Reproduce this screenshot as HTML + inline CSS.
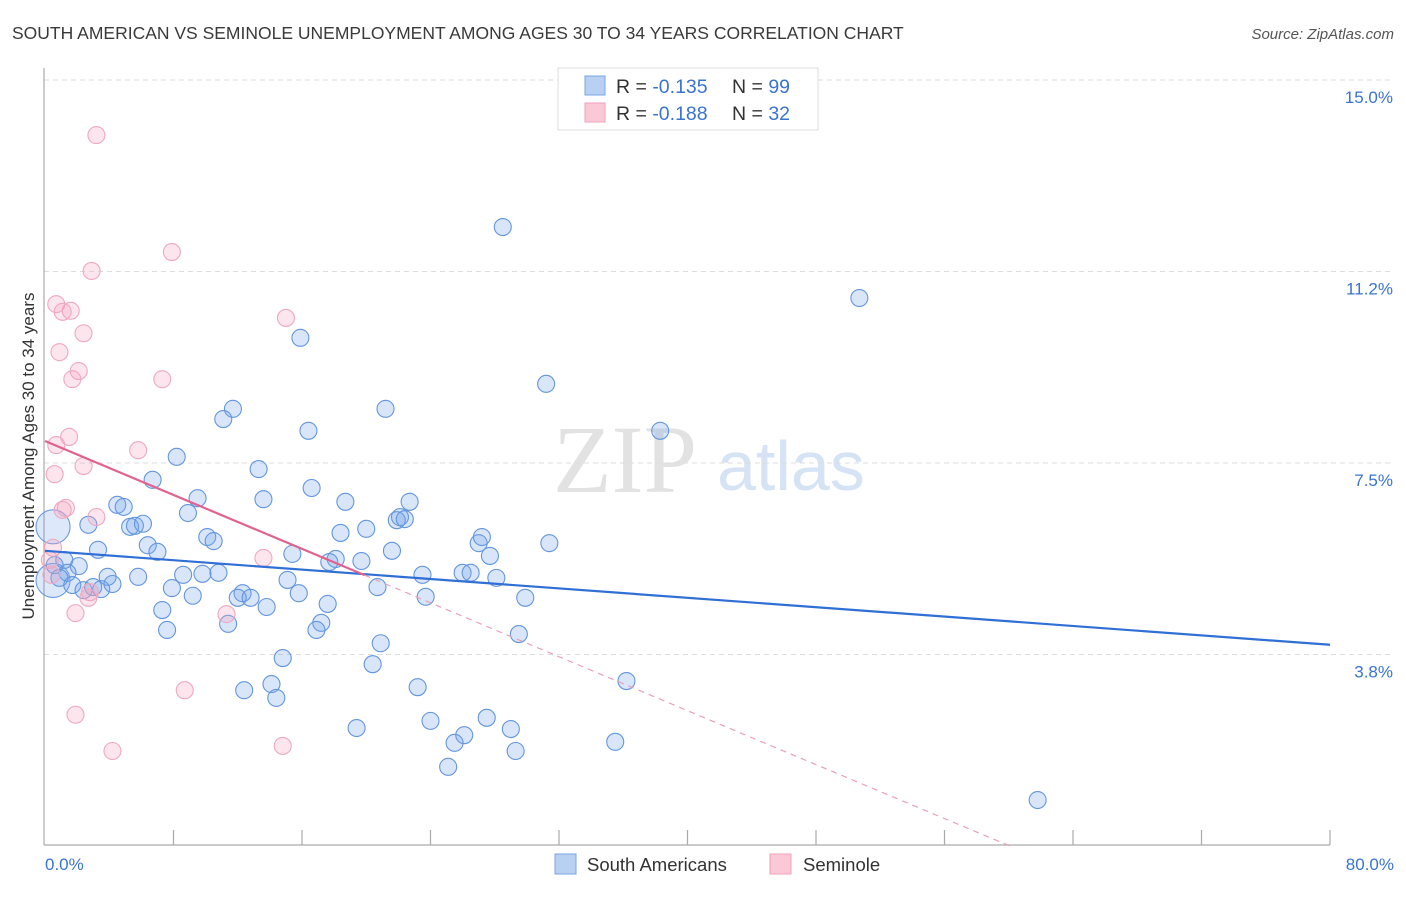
<!DOCTYPE html>
<html><head><meta charset="utf-8"><style>
body{margin:0;background:#fff;font-family:"Liberation Sans",sans-serif;}
svg text{font-family:"Liberation Sans",sans-serif;}
</style></head><body>
<svg id="chart" width="1406" height="892" xmlns="http://www.w3.org/2000/svg">
<text x="12" y="39" font-size="17.5" fill="#3a3a3a">SOUTH AMERICAN VS SEMINOLE UNEMPLOYMENT AMONG AGES 30 TO 34 YEARS CORRELATION CHART</text>
<text x="1394" y="39" font-size="15" fill="#555" text-anchor="end" font-style="italic">Source: ZipAtlas.com</text>
<text x="553" y="492" font-size="96" fill="#e2e2e2" font-family="Liberation Serif" style="font-family:'Liberation Serif',serif">ZIP</text>
<text x="717" y="490" font-size="70" fill="#d5e3f5">atlas</text>
<g id="grid"></g>
<line x1="44" y1="68" x2="44" y2="845" stroke="#aaa" stroke-width="1.2"/>
<line x1="44" y1="845" x2="1330" y2="845" stroke="#aaa" stroke-width="1.2"/>
<g id="xticks"></g>
<text transform="translate(34,456) rotate(-90)" font-size="17" fill="#333" text-anchor="middle">Unemployment Among Ages 30 to 34 years</text>
<text x="45" y="870" font-size="17" fill="#3a74d0">0.0%</text>
<text x="1394" y="870" font-size="17" fill="#3a74d0" text-anchor="end">80.0%</text>
<g id="points"></g>
<g id="trends"></g>
<g>
<rect x="558" y="68" width="260" height="62" fill="#fff" stroke="#ddd"/>
<rect x="585" y="76" width="20" height="19" fill="#b8d1f3" stroke="#7aa5e3"/>
<rect x="585" y="103" width="20" height="19" fill="#fbc8d7" stroke="#f0a0ba"/>
<text x="616" y="93" font-size="19.5" fill="#333">R = <tspan fill="#3a74d0">-0.135</tspan></text>
<text x="732" y="93" font-size="19.5" fill="#333">N = <tspan fill="#3a74d0">99</tspan></text>
<text x="616" y="120" font-size="19.5" fill="#333">R = <tspan fill="#3a74d0">-0.188</tspan></text>
<text x="732" y="120" font-size="19.5" fill="#333">N = <tspan fill="#3a74d0">32</tspan></text>
</g>
<g>
<rect x="555" y="854" width="21" height="20" fill="#b8d1f3" stroke="#7aa5e3"/>
<text x="587" y="871" font-size="18.5" fill="#333">South Americans</text>
</g>
<g>
<rect x="770" y="854" width="21" height="20" fill="#fbc8d7" stroke="#f0a0ba"/>
<text x="803" y="871" font-size="18.5" fill="#333">Seminole</text>
</g>
</svg>
<script>
const yTicks=[15.0,11.25,7.5,3.75];
const yTickLabels=["15.0%","11.2%","7.5%","3.8%"];
const xTickVals=[8,16,24,32,40,48,56,64,72,80];
const blueX=[28.5,50.7,15.9,31.2,11.7,11.1,21.2,16.4,38.3,8.2,13.3,6.7,16.6,9.5,13.6,18.7,22.7,4.5,4.9,8.9,2.7,5.3,5.6,6.1,22.1,21.9,22.4,18.4,20.0,10.1,10.5,27.0,27.2,31.4,6.4,7.0,3.3,15.4,21.6,27.7,18.1,19.7,17.7,1.2,2.1,0.6,1.4,0.9,1.7,2.4,3.0,3.9,3.5,4.2,5.8,8.6,9.8,10.8,23.5,26.0,26.5,28.1,7.9,15.1,20.7,9.2,12.3,12.0,12.8,15.8,23.7,29.9,13.8,17.6,7.3,17.2,16.9,11.4,7.6,29.5,20.9,14.8,20.4,36.2,23.2,14.1,12.4,14.4,27.5,24.0,19.4,29.0,26.1,25.5,35.5,29.3,25.1,61.8];
const blueY=[12.12,10.73,9.95,9.05,8.56,8.36,8.56,8.13,8.13,7.62,7.38,7.17,7.01,6.81,6.79,6.74,6.74,6.68,6.64,6.52,6.29,6.25,6.27,6.31,6.44,6.38,6.40,6.13,6.21,6.05,5.97,5.93,6.05,5.93,5.89,5.76,5.80,5.72,5.78,5.68,5.62,5.58,5.56,5.60,5.48,5.50,5.35,5.25,5.11,5.01,5.07,5.27,5.03,5.13,5.27,5.31,5.33,5.35,5.31,5.35,5.35,5.25,5.05,5.21,5.07,4.90,4.95,4.86,4.86,4.95,4.88,4.86,4.68,4.74,4.62,4.37,4.23,4.35,4.23,4.15,3.97,3.68,3.56,3.23,3.11,3.17,3.05,2.90,2.51,2.45,2.31,2.29,2.17,2.02,2.04,1.86,1.55,0.90];
const blueBigX=[0.5,0.5];
const blueBigY=[5.20,6.25];
const pinkX=[3.2,7.9,2.9,0.7,1.6,1.1,15.0,2.4,0.9,2.1,1.7,7.3,1.5,0.7,5.8,2.4,0.6,1.3,1.1,3.2,0.5,0.3,13.6,0.4,2.8,2.7,1.9,11.3,8.7,1.9,14.8,4.2];
const pinkY=[13.92,11.63,11.26,10.61,10.48,10.46,10.34,10.04,9.67,9.30,9.14,9.14,8.01,7.85,7.75,7.44,7.28,6.62,6.58,6.44,5.84,5.60,5.64,5.31,4.97,4.86,4.56,4.54,3.05,2.57,1.96,1.86];
const blueTrend=[5.78,3.94];
const pinkTrend=[7.93,-0.132];
const pinkSolidEnd=19.9;
const NS="http://www.w3.org/2000/svg";
const X0=45,X1=1330,Y0=846,YPX=51.07;
function sx(v){return X0+(X1-X0)*v/80;}
function sy(v){return Y0-v*YPX;}
function mk(tag,attrs,parent){const e=document.createElementNS(NS,tag);for(const k in attrs)e.setAttribute(k,attrs[k]);document.getElementById(parent).appendChild(e);return e;}
yTicks.forEach((t,i)=>{
 const l=mk('line',{x1:44,x2:1394,y1:sy(t),y2:sy(t),stroke:'#ddd','stroke-dasharray':'5,4'},'grid');
 
 
 const tx=mk('text',{x:1393,y:sy(t)+23,'font-size':17,fill:'#3a74d0','text-anchor':'end'},'grid');
 tx.textContent=yTickLabels[i];
 
 
});
xTickVals.forEach(v=>{
 const l=mk('line',{x1:sx(v),x2:sx(v),y1:830,y2:845,stroke:'#aaa','stroke-width':1.2},'xticks');
 
 
});
blueBigX.forEach((v,i)=>{
 const c=mk('circle',{cx:sx(v),cy:sy(blueBigY[i]),r:17,fill:'rgba(120,165,235,0.25)',stroke:'#6a9be0','stroke-width':1.1},'points');
 
 
});
blueX.forEach((v,i)=>{
 const c=mk('circle',{cx:sx(v),cy:sy(blueY[i]),r:8.5,fill:'rgba(120,165,235,0.28)',stroke:'#6396dd','stroke-width':1.1},'points');
 
 
});
pinkX.forEach((v,i)=>{
 const c=mk('circle',{cx:sx(v),cy:sy(pinkY[i]),r:8.5,fill:'rgba(245,160,190,0.28)',stroke:'#f0a8c0','stroke-width':1.1},'points');
 
 
});
let l=mk('line',{x1:sx(0),y1:sy(blueTrend[0]),x2:sx(80),y2:sy(blueTrend[1]),stroke:'#2f6fd6','stroke-width':2.2},'trends');


const pf=x=>pinkTrend[0]+pinkTrend[1]*x;
l=mk('line',{x1:sx(0),y1:sy(pf(0)),x2:sx(pinkSolidEnd),y2:sy(pf(pinkSolidEnd)),stroke:'#e2628f','stroke-width':2.2},'trends');


const xz=-pinkTrend[0]/pinkTrend[1];
l=mk('line',{x1:sx(pinkSolidEnd),y1:sy(pf(pinkSolidEnd)),x2:sx(xz),y2:sy(0),stroke:'#eaa0b8','stroke-width':1.2,'stroke-dasharray':'6,5'},'trends');


</script>
</body></html>
